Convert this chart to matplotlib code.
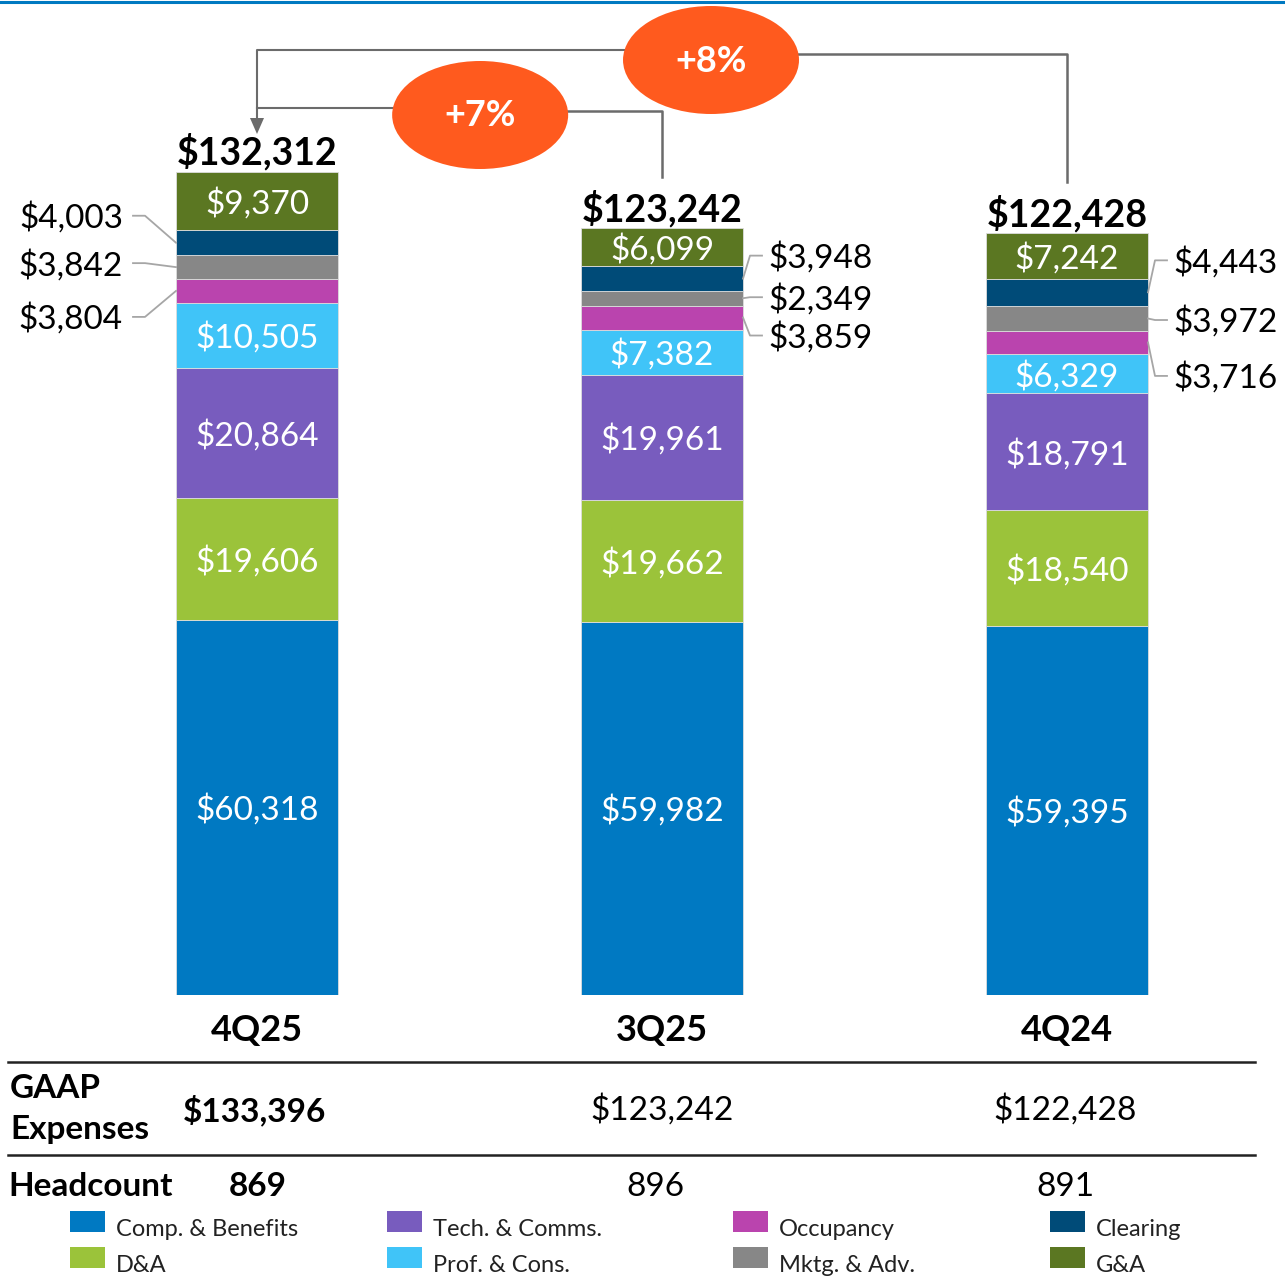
import matplotlib.pyplot as plt
from matplotlib.patches import Rectangle, Ellipse, Polygon
from matplotlib.lines import Line2D
from matplotlib.transforms import Affine2D, blended_transform_factory

plt.rcParams['font.family'] = ['Lato', 'DejaVu Sans']

quarters = ['4Q25', '3Q25', '4Q24']
series = ['Comp. & Benefits', 'D&A', 'Tech. & Comms.', 'Prof. & Cons.',
          'Occupancy', 'Mktg. & Adv.', 'Clearing', 'G&A']
comp_benefits = [60318, 59982, 59395]
d_and_a = [19606, 19662, 18540]
tech_comms = [20864, 19961, 18791]
prof_cons = [10505, 7382, 6329]
occupancy = [3804, 3859, 3716]
mktg_adv = [3842, 2349, 3972]
clearing = [4003, 3948, 4443]
g_and_a = [9370, 6099, 7242]
gaap_expenses = [133396, 123242, 122428]
headcount = [869, 896, 891]
growth = ['+7%', '+8%']

colors = ['#0079C2', '#9BC33A', '#785CBE', '#40C4F8',
          '#BA44AE', '#878787', '#004B78', '#5B7722']
inside = [True, True, True, True, False, False, False, True]

W, H = 1285, 1277
fig = plt.figure(figsize=(W / 100, H / 100), dpi=100)
pix = Affine2D().scale(1 / W, -1 / H).translate(0, 1) + fig.transFigure

# main axes: bar baseline at 995 px, 405 px between bars
base_px = 995
px_per_dollar = 823 / 132312
ax = fig.add_axes([0, (H - base_px) / H, 1, base_px / H])
ax.set_xlim(-257 / 405, (W - 257) / 405)
ax.set_ylim(0, base_px / px_per_dollar)
ax.axis('off')
xpix = blended_transform_factory(ax.transData, pix)

def dy(p):
    return p / px_per_dollar

def dx(p):
    return p / 405

x = list(range(len(quarters)))
values = [comp_benefits, d_and_a, tech_comms, prof_cons,
          occupancy, mktg_adv, clearing, g_and_a]
width = 0.4
bottom = [0, 0, 0]
centers = []
for vals, col, show in zip(values, colors, inside):
    ax.bar(x, vals, width, bottom=bottom, color=col, edgecolor='#dddddd', linewidth=0.6)
    mids = [b + v / 2 for b, v in zip(bottom, vals)]
    centers.append(mids)
    if show:
        for xi, m, v in zip(x, mids, vals):
            ax.text(xi, m - dy(2.5), f'${v:,}', color='white', ha='center', va='center', fontsize=24)
    bottom = [b + v for b, v in zip(bottom, vals)]
totals = bottom

for xi, t in zip(x, totals):
    ax.annotate(f'${t:,}', (xi, t), xytext=(0, 1), textcoords='offset points',
                ha='center', va='bottom', fontsize=27, fontweight='bold')

# side labels for the small segments (Occupancy, Mktg, Clearing)
side_shift = {0: [26, -4, -27], 1: [18, -1, -23], 2: [33.5, 1.5, -32]}
for xi in x:
    for k, si in enumerate([4, 5, 6]):
        yc = centers[si][xi]
        yl = yc - dy(side_shift[xi][k])
        v = values[si][xi]
        if xi == 0:
            edge = xi - width / 2
            ax.plot([edge, edge - dx(31), edge - dx(43)], [yc, yl, yl], color='#a6a6a6', lw=1.3)
            ax.text(edge - dx(53), yl - dy(2), f'${v:,}', ha='right', va='center', fontsize=24)
        else:
            edge = xi + width / 2
            ax.plot([edge, edge + dx(7), edge + dx(19)], [yc, yl, yl], color='#a6a6a6', lw=1.3)
            ax.text(edge + dx(25), yl - dy(2), f'${v:,}', ha='left', va='center', fontsize=24)

# growth brackets
gray = '#6b6b6b'
ax.plot([0, 0, 1.121], [totals[0] + dy(45), dy(base_px - 50), dy(base_px - 50)], color=gray, lw=1.5)
ax.plot([1.121, 2, 2], [dy(base_px - 54), dy(base_px - 54), totals[2] + dy(51)], color=gray, lw=1.8)
ax.plot([0, 0.551], [dy(base_px - 108), dy(base_px - 108)], color=gray, lw=1.5)
ax.plot([0.551, 1, 1], [dy(base_px - 111), dy(base_px - 111), totals[1] + dy(51)], color=gray, lw=1.8)
ax.add_patch(Polygon([[-dx(7), totals[0] + dy(54)], [dx(7), totals[0] + dy(54)],
                      [0, totals[0] + dy(38)]], closed=True, color=gray, lw=0))
for (cx, cy), label in zip([(0.551, 115), (1.121, 60)], growth):
    ax.add_patch(Ellipse((cx, dy(base_px - cy)), dx(176), dy(108), color='#FF5A1E', lw=0, zorder=5))
    ax.text(cx, dy(base_px - cy - 1), label, color='white', ha='center', va='center',
            fontsize=26, fontweight='bold', zorder=6)

# category labels
for xi, q in zip(x, quarters):
    ax.text(xi, 1030, q, transform=xpix, ha='center', va='center', fontsize=26, fontweight='bold')

# top rule
fig.add_artist(Line2D([0, W], [2, 2], transform=pix, color='#0079C1', lw=2.2))

# table
for yl in [1062, 1155]:
    fig.add_artist(Line2D([8, 1255], [yl, yl], transform=pix, color='#222222', lw=1.8))
fig.text(10, 1088, 'GAAP', transform=pix, ha='left', va='center', fontsize=24, fontweight='bold')
fig.text(10, 1129, 'Expenses', transform=pix, ha='left', va='center', fontsize=24, fontweight='bold')
fig.text(8, 1186, 'Headcount', transform=pix, ha='left', va='center', fontsize=24, fontweight='bold')
row_x = [255, 662, 1065]
hc_x = [258, 655, 1065]
for i, (g, h) in enumerate(zip(gaap_expenses, headcount)):
    w = 'bold' if i == 0 else 'normal'
    fig.text(row_x[i], 1110, f'${g:,}', transform=pix, ha='center', va='center',
             fontsize=24, fontweight=w)
    fig.text(hc_x[i], 1187, f'{h}', transform=pix, ha='center', va='center',
             fontsize=24, fontweight=w)

# legend
col_x = [70, 387, 733, 1050]
row_y = [1211, 1247]
for i, (name, col) in enumerate(zip(series, colors)):
    lx = col_x[i // 2]
    ly = row_y[i % 2]
    fig.add_artist(Rectangle((lx, ly), 35, 21, transform=pix, color=col, lw=0))
    fig.text(lx + 46, ly + 18, name, transform=pix, ha='left', va='center', fontsize=17,
             color='#222222')

fig.savefig('out.png', dpi=100)
